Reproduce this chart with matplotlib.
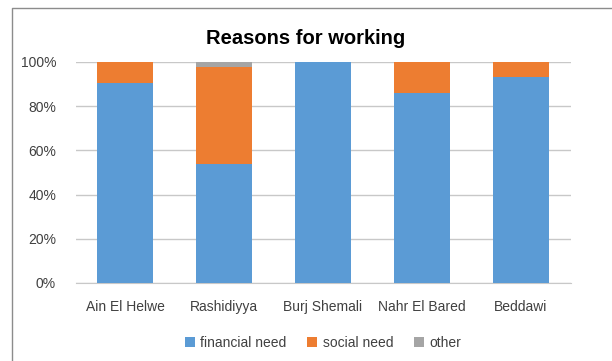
import matplotlib.pyplot as plt
from matplotlib.lines import Line2D

camps = ['Ain El Helwe', 'Rashidiyya', 'Burj Shemali', 'Nahr El Bared', 'Beddawi']
financial = [90.5, 53.7, 100.0, 85.8, 93.1]
social = [9.5, 43.9, 0.0, 14.2, 6.9]
other = [0.0, 2.4, 0.0, 0.0, 0.0]

BLUE = '#5b9bd5'
ORANGE = '#ed7d31'
GREY = '#a5a5a5'


def main():
    plt.rcParams['font.family'] = ['Liberation Sans', 'DejaVu Sans']
    fig = plt.figure(figsize=(6.12, 3.61), dpi=100)
    ax = fig.add_axes([75.5 / 612, 1 - 283 / 361, 495 / 612, 221 / 361])

    x = list(range(len(camps)))
    w = 0.565
    bottom2 = financial
    bottom3 = [a + b for a, b in zip(financial, social)]
    ax.bar(x, financial, w, color=BLUE, label='financial need', zorder=3)
    ax.bar(x, social, w, bottom=bottom2, color=ORANGE, label='social need', zorder=3)
    ax.bar(x, other, w, bottom=bottom3, color=GREY, label='other', zorder=3)

    ax.set_xlim(-0.5, len(camps) - 0.5)
    ax.set_ylim(0, 100)
    ax.set_yticks(range(0, 101, 20))
    ax.set_yticklabels([str(v) + '%' for v in range(0, 101, 20)], fontsize=10, color='#404040')
    ax.set_xticks(x)
    ax.set_xticklabels(camps, fontsize=10, color='#404040')
    ax.tick_params(axis='y', length=0, pad=14)
    ax.tick_params(axis='x', length=0, pad=12)
    ax.yaxis.grid(True, color='#c8c8c8', linewidth=1, zorder=0)
    for s in ['top', 'right', 'left']:
        ax.spines[s].set_visible(False)
    ax.spines['bottom'].set_color('#c8c8c8')

    fig.text(0.5, 1 - 38 / 361, 'Reasons for working', ha='center', va='center',
             fontsize=14.5, fontweight='bold')
    ax.legend(loc='center', bbox_to_anchor=(0.5, -0.27), ncol=3, frameon=False,
              fontsize=10, handlelength=0.7, handleheight=0.7, columnspacing=1.5,
              handletextpad=0.4, labelcolor='#404040')

    # chart frame: only left and top edges fall inside the image
    fig.lines.append(Line2D([12 / 612, 12 / 612, 1.0], [0.0, 1 - 8 / 361, 1 - 8 / 361],
                            transform=fig.transFigure, color='#8c8c8c', linewidth=1))
    fig.savefig('out.png', dpi=100)


if __name__ == '__main__':
    main()
